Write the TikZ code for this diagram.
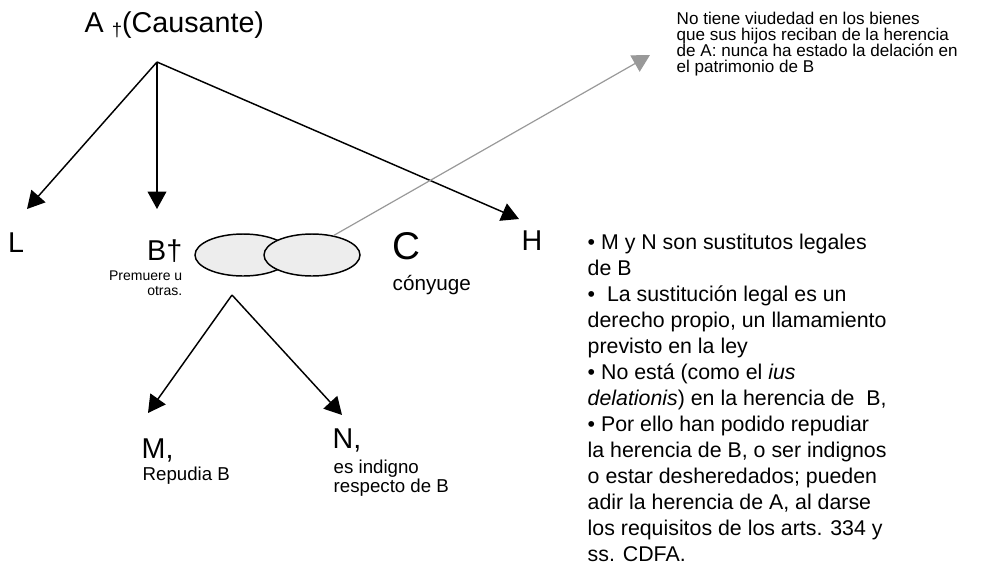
\documentclass[tikz,border=0pt]{standalone}
\usepackage{fontspec}
\setmainfont{Liberation Sans}
\usetikzlibrary{positioning, shapes.geometric, arrows.meta}
\newcommand\tightlead{\lineskiplimit=-5pt\relax\lineskip=0pt\relax}

\begin{document}
\begin{tikzpicture}[x=0.75pt, y=-0.75pt, line width=1.1pt, >={Triangle[length=13pt, width=14pt]},
  big/.style = {inner sep=0pt, anchor=base west, font=\fontsize{21.5}{24}\selectfont},
  small/.style = {inner sep=0pt, anchor=north west, align=left, font=\fontsize{14}{14.25}\selectfont},
  txt/.style = {inner sep=0pt, anchor=north west, align=left},
  bubble/.style = {draw, ellipse, fill=black!7, inner sep=0pt, minimum width=72pt, minimum height=31.5pt}]
  \useasboundingbox (0,0) rectangle (1000,565);

  \node[big] (at) at (84,32) {A {\fontsize{14}{14}\selectfont\raisebox{-3pt}{†}}(Causante)};
  \coordinate (ap) at (157,62);

  \node[big, anchor=center] (lt) at (16,243) {L};
  \node[big, anchor=base east] (bt) at (183,260) {B†};
  \node[txt, anchor=north east, align=right, font=\fontsize{10.5}{11.3}\selectfont] (bn) at (183,270) {Premuere u\\otras.};
  \node[bubble] (e1) at (243,255) {};
  \node[bubble] (e2) at (312,255) {};
  \node[inner sep=0pt, anchor=center, font=\fontsize{29}{30}\selectfont] (ct) at (406,246) {C};
  \node[small, font=\fontsize{15.5}{16}\selectfont] (cn) at (392,275) {cónyuge};
  \node[big, anchor=center] (ht) at (532,241) {H};

  \coordinate (lp) at (27,209);
  \coordinate (bp) at (157,209);
  \coordinate (hp) at (519,219);
  \coordinate (gp) at (650,55);

  % hijos de B
  \coordinate (sp) at (232,295);
  \coordinate (mp) at (148,413);
  \coordinate (np) at (342,415);
  \node[big] (mt) at (141,458) {M,};
  \node[small] (mn) at (142,466) {Repudia B};
  \node[big] (nt) at (332,448) {N,};
  \node[small] (nn) at (333,459) {es indigno\\respecto de B};

  \node[txt, font=\fontsize{12.8}{12.2}\selectfont\tightlead] (gn) at (676,11)
    {No tiene viudedad en los bienes\\que sus hijos reciban de la herencia\\de A: nunca ha estado la delación en\\el patrimonio de B};

  \node[txt, font=\fontsize{16}{19.5}\selectfont] (rn) at (587,233)
    {• M y N son sustitutos legales\\de B\\•~ La sustitución legal es un\\derecho propio, un llamamiento\\previsto en la ley\\• No está (como el \textit{ius}\\\textit{delationis}) en la herencia de~ B,\\• Por ello han podido repudiar\\la herencia de B, o ser indignos\\o estar desheredados; pueden\\adir la herencia de A, al darse\\los requisitos de los arts. 334 y\\ss. CDFA.};

  \draw[->] (ap) -- (lp);
  \draw[->] (ap) -- (bp);
  \draw[->] (ap) -- (hp);
  \draw[->] (sp) -- (mp);
  \draw[->] (sp) -- (np);
  \draw[->, black!40, line width=0.9pt] (e2.42) -- (gp);

\end{tikzpicture}
\end{document}
